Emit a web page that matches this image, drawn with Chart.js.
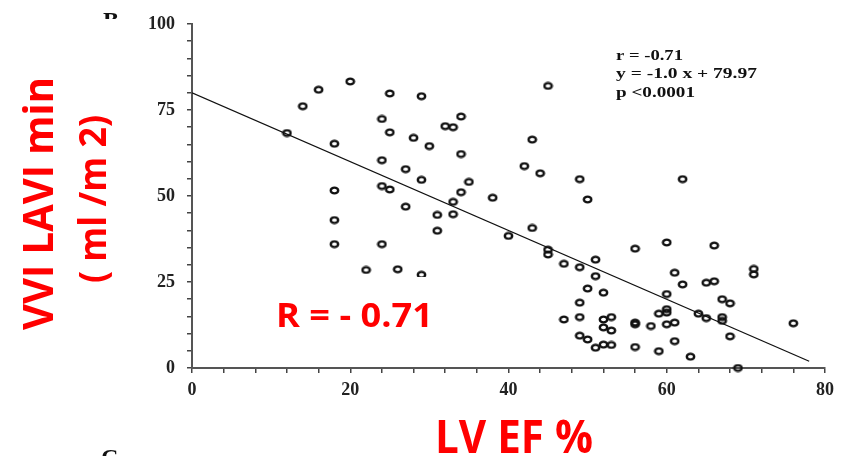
<!DOCTYPE html>
<html>
<head>
<meta charset="utf-8">
<script src="https://cdn.jsdelivr.net/npm/chart.js@4.4.0/dist/chart.umd.min.js"></script>
<style>
  html, body { margin: 0; padding: 0; background: #fff; }
  #wrap { width: 841px; height: 456px; }
</style>
</head>
<body>
<div id="wrap"><canvas id="scatter" width="841" height="456"></canvas></div>
<script>
// LV EF (%) against VVI LAVI min (ml/m2)
const ef = [12, 14, 16, 20, 25, 29, 24, 25, 32, 33, 34, 28, 30, 18, 34, 24, 27, 29, 35, 24,
  25, 18, 34, 33, 38, 27, 31, 33, 31, 18, 18, 24, 22, 26, 29, 45, 43, 42, 44, 49,
  62, 50, 43, 40, 45, 45, 47, 49, 51, 51, 50, 52, 49, 47, 49, 52, 53, 52, 53, 49,
  50, 51, 52, 53, 56, 60, 66, 61, 62, 65, 66, 71, 71, 60, 67, 68, 60, 60, 59, 64,
  65, 67, 67, 56, 56, 58, 60, 61, 76, 68, 56, 59, 61, 63, 69]
const lavi = [68.3, 76.1, 80.9, 83.3, 79.8, 79.0, 72.4, 68.5, 70.3, 70.0, 73.1, 66.9, 64.5, 65.2, 62.2, 60.4, 57.8, 54.7, 54.1, 52.9,
  51.9, 51.6, 51.1, 48.3, 49.5, 46.9, 44.5, 44.7, 39.9, 43.0, 36.0, 36.0, 28.5, 28.7, 27.1, 82.0, 66.4, 58.7, 56.6, 54.9,
  54.9, 49.0, 40.7, 38.4, 34.4, 33.0, 30.3, 29.3, 31.5, 26.7, 23.1, 21.9, 19.0, 14.1, 14.8, 14.1, 14.8, 11.8, 10.9, 9.4,
  8.3, 5.9, 6.8, 6.7, 34.7, 36.5, 35.6, 27.7, 24.3, 24.8, 25.2, 28.8, 27.2, 21.5, 20.0, 18.8, 17.1, 16.1, 15.8, 15.8,
  14.5, 14.8, 13.7, 13.2, 12.7, 12.2, 12.7, 13.2, 13.0, 9.2, 6.1, 4.9, 7.8, 3.3, 0]

// fitted line y = -1.0 x + 79.97
const slope = -1.0
const intercept = 79.97
const fitRange = [0, 78]

const statLines = ['r = -0.71', 'y = -1.0 x + 79.97', 'p <0.0001']

const points = ef.map((x, i) => ({ x: x, y: lavi[i] }))
const fitLine = fitRange.map(x => ({ x: x, y: slope * x + intercept }))

// small open ellipse used as the marker
const marker = document.createElement('canvas')
marker.width = 11
marker.height = 9
const mctx = marker.getContext('2d')
mctx.strokeStyle = '#111'
mctx.lineWidth = 2.4
mctx.beginPath()
mctx.ellipse(5.5, 4.5, 3.7, 2.9, 0, 0, Math.PI * 2)
mctx.stroke()

// draws a string stretched to a given width
function fitText(ctx, str, x, y, font, width, align, angle) {
    ctx.save()
    ctx.font = font
    const w = ctx.measureText(str).width
    ctx.translate(x, y)
    if (angle) ctx.rotate(angle)
    ctx.scale(width / w, 1)
    ctx.textAlign = align
    ctx.textBaseline = 'alphabetic'
    ctx.fillText(str, 0, 0)
    ctx.restore()
}

const labelsPlugin = {
    id: 'labels',
    afterDraw(chart) {
        const ctx = chart.ctx
        const sans = 'bold 42px "Open Sans"'
        ctx.fillStyle = '#ff0000'
        // white box under the R value
        ctx.save()
        ctx.fillStyle = '#fff'
        ctx.fillRect(262, 277, 190, 62)
        ctx.restore()
        fitText(ctx, 'R = - 0.71', 276, 327, 'bold 34px "Open Sans"', 157, 'left')
        fitText(ctx, 'LV EF %', 435, 453, 'bold 46px "Open Sans"', 158, 'left')
        fitText(ctx, 'VVI LAVI min', 53, 203.5, sans, 253, 'center', -Math.PI / 2)
        fitText(ctx, '( ml /m 2)', 106, 199, 'bold 38px "Open Sans"', 168, 'center', -Math.PI / 2)

        // regression stats
        ctx.fillStyle = '#111'
        const serif = 'bold 14px "Liberation Serif"'
        fitText(ctx, statLines[0], 616, 60, serif, 67, 'left')
        fitText(ctx, statLines[1], 616, 78, serif, 141, 'left')
        fitText(ctx, statLines[2], 616, 97, serif, 79, 'left')

        // neighbouring panel letters
        ctx.save()
        ctx.beginPath()
        ctx.rect(90, 0, 50, 19)
        ctx.clip()
        ctx.font = 'bold 24px "Liberation Serif"'
        ctx.fillText('B', 103, 28)
        ctx.restore()
        ctx.font = 'bold 24px "Liberation Serif"'
        ctx.fillText('C', 101, 465)
    }
}

const tickFont = { family: '"Liberation Serif"', size: 18, weight: 'bold' }

const ctx = document.getElementById('scatter').getContext('2d')
const myChart = new Chart(ctx, {
    type: 'scatter',
    data: {
        datasets: [{
            data: points,
            pointStyle: marker,
            pointRadius: 4,
            pointHoverRadius: 4,
            clip: false
        }, {
            type: 'line',
            data: fitLine,
            borderColor: '#111',
            borderWidth: 1.3,
            pointRadius: 0,
            fill: false
        }]
    },
    options: {
        responsive: false,
        animation: false,
        events: [],
        layout: {
            padding: { left: 0, right: 15, top: 24, bottom: 0 }
        },
        plugins: {
            legend: { display: false },
            tooltip: { enabled: false }
        },
        scales: {
            x: {
                type: 'linear',
                min: 0,
                max: 80,
                afterFit: (scale) => { scale.height = 88 },
                border: { display: true, color: '#555', width: 2 },
                grid: { drawOnChartArea: false, tickLength: 5, color: '#444', lineWidth: 1.5 },
                ticks: {
                    stepSize: 4,
                    autoSkip: false,
                    maxRotation: 0,
                    padding: 7,
                    color: '#222',
                    font: tickFont,
                    callback: (v) => v % 20 === 0 ? String(v) : ''
                }
            },
            y: {
                min: 0,
                max: 100,
                afterFit: (scale) => { scale.width = 192 },
                border: { display: true, color: '#555', width: 2 },
                grid: { drawOnChartArea: false, tickLength: 5, color: '#444', lineWidth: 1.5 },
                ticks: {
                    stepSize: 5,
                    autoSkip: false,
                    padding: 12,
                    color: '#222',
                    font: tickFont,
                    callback: (v) => v % 25 === 0 ? String(v) : ''
                }
            }
        }
    },
    plugins: [labelsPlugin]
});
</script>
</body>
</html>
